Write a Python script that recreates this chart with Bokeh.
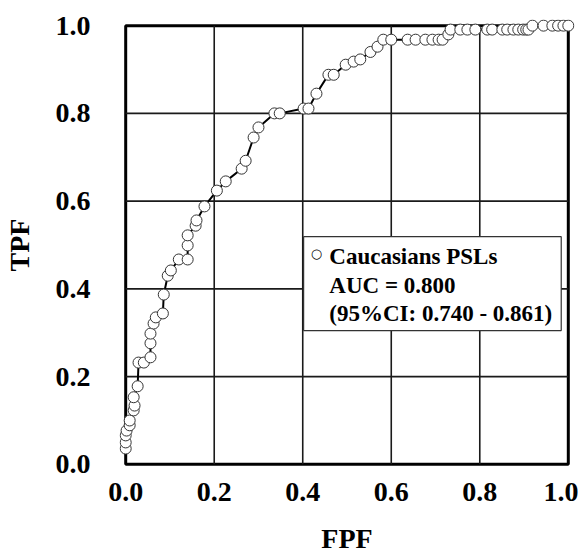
from bokeh.plotting import figure
from bokeh.models import Range1d, FixedTicker, NumeralTickFormatter, BoxAnnotation, Label
from bokeh.embed import file_html
from bokeh.resources import INLINE

# ROC curve points
fpf = [0.000, 0.000, 0.000, 0.002, 0.009, 0.009, 0.018, 0.020, 0.018, 0.027,
       0.029, 0.041, 0.056, 0.056, 0.056, 0.063, 0.068, 0.084, 0.086, 0.095,
       0.102, 0.120, 0.140, 0.140, 0.140, 0.158, 0.160, 0.178, 0.206, 0.226,
       0.262, 0.271, 0.289, 0.300, 0.336, 0.348, 0.402, 0.413, 0.431, 0.458,
       0.470, 0.497, 0.515, 0.530, 0.553, 0.569, 0.582, 0.600, 0.637, 0.655,
       0.677, 0.693, 0.707, 0.716, 0.729, 0.734, 0.756, 0.772, 0.790, 0.817,
       0.828, 0.851, 0.862, 0.876, 0.887, 0.898, 0.905, 0.910, 0.919, 0.944,
       0.964, 0.977, 0.989, 1.000]
tpf = [0.036, 0.050, 0.066, 0.077, 0.089, 0.100, 0.123, 0.134, 0.153, 0.178,
       0.232, 0.232, 0.244, 0.276, 0.298, 0.321, 0.335, 0.344, 0.387, 0.430,
       0.442, 0.467, 0.467, 0.499, 0.522, 0.544, 0.556, 0.588, 0.624, 0.645,
       0.674, 0.692, 0.745, 0.768, 0.800, 0.800, 0.811, 0.811, 0.845, 0.888,
       0.888, 0.911, 0.918, 0.923, 0.940, 0.952, 0.968, 0.968, 0.968, 0.968,
       0.968, 0.968, 0.968, 0.968, 0.980, 0.991, 0.991, 0.991, 0.991, 0.991,
       0.991, 0.991, 0.991, 0.991, 0.991, 0.991, 0.991, 0.991, 1.000, 1.000,
       1.000, 1.000, 1.000, 1.000]

ticks = [0.0, 0.2, 0.4, 0.6, 0.8, 1.0]
legend_lines = ["Caucasians PSLs", "AUC = 0.800", "(95%CI: 0.740 - 0.861)"]

FONT = "Liberation Serif"
pad = 0.014

p = figure(frame_width=455, frame_height=451, output_backend="svg", toolbar_location=None,
           x_range=Range1d(-pad, 1 + pad), y_range=Range1d(-pad, 1 + pad),
           min_border_left=119, min_border_right=4, min_border_top=19, min_border_bottom=82)
p.background_fill_color = "white"
p.border_fill_color = "white"
p.outline_line_color = None
p.grid.visible = False

# grid lines from tick positions
inner = ticks[1:-1]
p.segment(x0=inner, y0=[ticks[0]] * len(inner), x1=inner, y1=[ticks[-1]] * len(inner),
          line_color="#1a1a1a", line_width=1.6)
p.segment(x0=[ticks[0]] * len(inner), y0=inner, x1=[ticks[-1]] * len(inner), y1=inner,
          line_color="#1a1a1a", line_width=1.6)

# plot frame box
p.add_layout(BoxAnnotation(left=ticks[0], right=ticks[-1], bottom=ticks[0], top=ticks[-1],
                           fill_alpha=0, line_color="black", line_alpha=1, line_width=3,
                           level="underlay"))

p.line(fpf, tpf, line_color="black", line_width=2)
p.scatter(fpf, tpf, size=11, marker="circle", fill_color="white", line_color="#333333", line_width=1)

for ax in (p.xaxis, p.yaxis):
    ax.ticker = FixedTicker(ticks=ticks)
    ax.formatter = NumeralTickFormatter(format="0.0")
    ax.axis_line_color = None
    ax.major_tick_line_color = None
    ax.minor_tick_line_color = None
    ax.major_tick_out = 0
    ax.major_tick_in = 0
    ax.major_label_text_font = FONT
    ax.major_label_text_font_style = "bold"
    ax.major_label_text_font_size = "28px"
    ax.major_label_text_color = "black"
    ax.axis_label_text_font = FONT
    ax.axis_label_text_font_style = "bold"
    ax.axis_label_text_font_size = "28px"
    ax.axis_label_text_color = "black"

p.xaxis.axis_label = "FPF"
p.yaxis.axis_label = "TPF"
p.xaxis.major_label_standoff = 12
p.yaxis.major_label_standoff = 29
p.xaxis.axis_label_standoff = 19
p.yaxis.axis_label_standoff = 18

# legend box
p.add_layout(BoxAnnotation(left=0.402, right=0.984, bottom=0.305, top=0.519,
                           fill_color="white", fill_alpha=1, line_color="#333333",
                           line_alpha=1, line_width=1.2))
p.add_layout(Label(x=0.431, y=0.481, text="○", text_font="DejaVu Sans", text_font_size="13px",
                   text_align="center", text_baseline="middle", text_color="black"))
for t, yy in zip(legend_lines, [0.474, 0.408, 0.344]):
    p.add_layout(Label(x=0.460, y=yy, text=t, text_font=FONT, text_font_style="bold",
                       text_font_size="23px", text_baseline="middle", text_color="black"))

open("out.html", "w").write(file_html(p, INLINE))
